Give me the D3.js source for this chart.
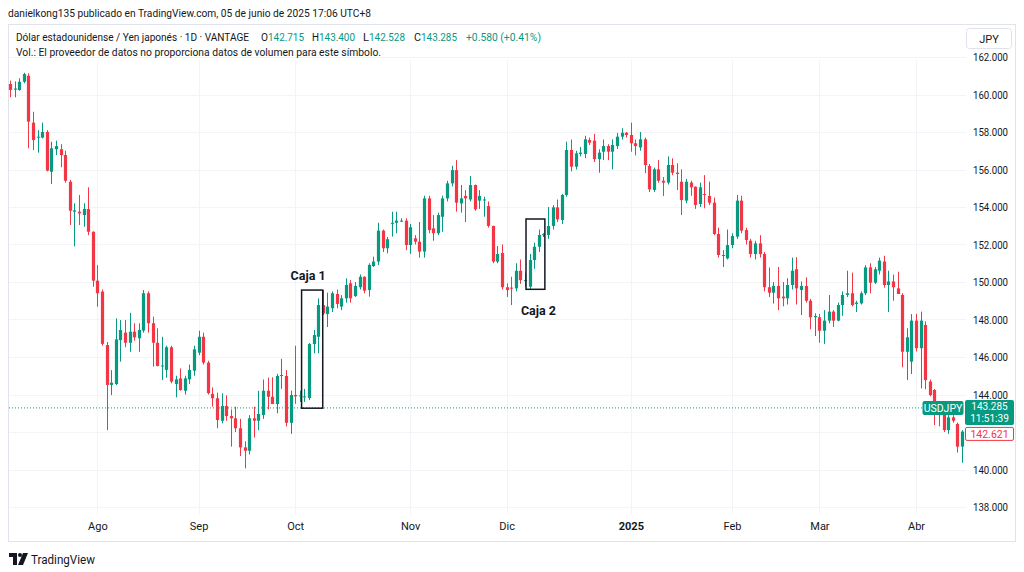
<!DOCTYPE html>
<html><head><meta charset="utf-8">
<script src="https://cdn.jsdelivr.net/npm/d3@7"></script>
<style>
body{margin:0;background:#fff;}
svg{display:block;font-family:Roboto,"Liberation Sans",sans-serif;}
</style>
</head><body>
<svg id="chart" width="1024" height="572"></svg>
<script>
// ---- data ----
const openP = [160.56,160.26,160.24,160.68,161.00,158.50,157.70,157.70,158.00,155.88,157.08,157.08,156.77,155.35,153.75,153.75,153.57,153.89,152.68,150.07,149.49,146.64,144.51,144.56,146.90,147.30,146.76,147.35,147.00,147.41,149.40,147.80,146.76,145.50,145.31,146.52,144.56,144.86,144.20,144.81,145.27,146.23,147.08,145.70,144.03,143.80,142.60,143.39,142.85,142.73,142.20,141.18,141.00,142.73,142.60,142.91,144.20,143.88,143.49,144.99,144.99,142.49,143.97,143.90,143.85,143.81,146.69,147.08,148.77,148.29,148.60,149.36,148.69,149.13,149.93,149.25,149.72,150.28,149.57,150.85,151.09,152.74,151.80,153.10,153.16,153.25,153.27,151.97,152.33,152.15,151.62,154.46,152.86,152.60,153.48,154.46,155.26,155.97,154.19,154.59,154.40,155.17,154.34,154.35,154.05,152.99,151.09,151.55,149.72,149.70,149.66,150.60,150.05,149.75,151.17,151.88,152.50,152.51,152.99,153.98,153.31,154.64,157.04,156.15,156.83,156.83,157.57,157.54,156.55,156.95,157.25,156.95,157.25,157.75,157.96,157.84,157.40,157.18,157.61,156.19,154.91,156.01,155.40,155.30,156.24,155.83,155.35,154.34,155.30,155.08,154.16,154.69,154.59,154.23,152.56,151.39,151.26,151.97,152.42,154.34,152.77,152.20,151.49,152.06,151.49,149.72,149.43,149.79,149.22,149.13,149.84,150.68,149.57,149.79,149.00,148.12,148.12,147.40,147.94,148.42,147.94,148.77,149.31,149.40,148.83,148.86,149.40,150.78,149.96,150.60,151.09,149.84,150.03,149.66,149.31,146.28,145.75,147.94,146.47,147.71,144.69,144.24,143.17,143.00,142.10,142.78,142.43,141.22];
const highP = [160.74,160.70,160.86,161.16,161.13,159.08,158.10,158.50,158.10,157.48,157.54,157.35,157.00,155.45,154.20,154.64,154.20,155.05,152.70,150.90,149.60,146.80,145.30,148.06,147.97,147.97,148.36,147.80,147.80,149.57,149.50,148.15,147.53,147.08,146.60,146.60,145.00,145.39,145.00,145.60,146.60,147.40,147.30,145.80,144.38,144.10,144.06,143.95,143.20,143.35,142.70,141.50,142.90,143.35,144.20,144.80,144.90,144.92,145.10,145.90,145.30,144.20,146.60,144.20,144.30,146.75,147.44,149.13,149.57,149.43,149.50,149.60,149.30,150.20,150.10,150.00,150.40,150.30,151.00,151.35,153.16,152.80,152.40,153.75,153.75,153.40,153.40,153.10,152.50,153.20,154.60,154.60,153.57,153.70,154.60,155.40,156.20,156.50,155.17,154.90,155.65,155.20,154.90,154.55,154.30,153.00,151.92,152.00,149.93,150.28,151.00,151.20,150.50,151.50,152.10,152.80,152.60,154.00,154.10,154.40,154.70,157.48,157.60,157.00,157.20,157.80,157.70,157.90,157.08,157.60,157.35,157.61,157.95,158.20,158.00,158.50,157.60,158.00,157.70,156.30,156.10,156.50,155.60,156.70,156.60,156.33,156.01,155.50,155.40,155.10,155.30,155.70,155.35,154.50,152.90,151.70,152.80,152.60,154.64,154.60,152.90,152.30,152.20,152.50,151.60,150.78,150.00,150.80,150.00,150.20,151.30,151.32,150.03,150.25,149.10,148.33,148.30,148.50,149.31,148.50,148.90,149.50,150.60,150.50,149.00,149.50,150.90,151.00,150.80,151.30,151.40,150.60,150.40,150.55,149.40,147.53,148.29,148.30,148.42,147.90,144.80,144.30,143.50,143.17,142.90,142.90,142.50,142.10];
const lowP = [159.85,159.85,160.20,160.60,157.13,157.04,156.90,157.66,155.90,155.23,156.77,156.12,155.30,153.04,151.90,153.04,152.95,152.50,149.75,148.68,146.60,142.10,143.97,144.50,145.75,146.52,146.28,146.87,146.28,147.30,147.30,145.49,145.50,144.77,144.90,144.60,143.85,144.20,144.00,144.56,145.00,146.10,145.60,144.00,143.35,142.20,142.46,142.60,141.22,142.00,140.72,140.06,140.80,141.70,142.10,142.70,143.20,143.50,143.00,144.30,142.30,141.90,143.50,143.60,143.60,143.70,146.20,146.20,148.24,147.60,148.40,148.60,148.50,148.90,148.90,149.20,149.60,149.40,149.22,150.80,150.90,151.60,151.53,152.42,152.60,153.20,151.70,151.50,152.00,151.30,151.30,152.60,152.20,152.50,152.68,154.30,155.10,153.75,153.70,153.20,154.30,153.80,153.90,153.48,152.90,151.00,151.00,149.60,149.20,148.77,149.50,149.90,149.75,149.60,150.70,151.60,152.40,152.30,152.80,153.20,153.10,154.55,155.90,156.00,156.70,156.60,157.30,156.40,155.83,156.50,156.50,156.01,157.10,157.60,157.70,156.95,156.75,157.00,155.80,154.80,154.80,155.30,154.59,155.20,155.70,154.91,153.57,154.20,154.60,153.90,154.00,153.93,154.11,152.50,151.30,150.80,151.20,151.80,152.30,152.60,152.00,151.30,151.20,151.30,149.50,149.20,148.85,148.50,148.70,148.80,149.60,148.80,148.24,148.90,147.48,147.12,146.76,146.70,147.80,147.60,147.90,148.20,149.20,148.70,148.40,148.80,149.30,149.40,149.90,150.40,149.70,148.40,149.00,149.50,145.45,144.77,145.09,146.30,144.33,144.28,143.90,142.37,142.30,142.00,141.90,142.50,140.90,140.36];
const closeP = [160.24,160.32,160.68,161.09,158.55,157.57,157.75,158.00,155.94,157.13,157.25,156.77,155.40,153.80,153.82,153.66,153.90,152.68,150.07,149.40,146.70,144.51,144.63,146.94,147.44,146.76,147.35,147.05,147.44,149.40,147.80,146.76,145.52,145.55,146.52,144.69,144.81,144.24,144.86,145.31,146.41,147.08,145.70,144.07,143.80,142.64,143.39,142.85,142.73,142.20,141.18,141.00,142.73,142.60,142.96,144.20,143.88,143.49,144.99,145.04,142.49,143.97,143.90,143.95,143.90,146.69,147.17,148.77,148.33,148.69,149.40,148.83,149.13,149.84,149.13,149.79,150.28,149.54,150.91,151.09,152.74,151.80,152.28,153.16,153.27,153.27,151.97,152.92,152.15,151.62,154.46,152.77,152.60,153.57,154.46,155.26,155.97,154.23,154.46,154.46,155.17,153.88,154.59,154.40,152.99,151.09,151.49,149.72,149.57,149.66,150.60,150.10,150.10,151.17,151.88,152.51,152.55,152.99,153.98,153.34,154.64,157.04,156.15,156.86,156.90,157.61,157.43,156.55,156.90,157.25,156.95,157.31,157.75,157.96,157.84,157.40,157.25,157.61,156.24,154.94,156.01,155.40,155.30,156.24,155.83,155.76,154.37,155.35,155.05,154.11,155.05,154.64,154.23,152.56,151.44,151.44,151.97,152.45,154.34,152.74,152.24,151.49,152.06,151.49,149.72,149.43,149.79,149.13,149.13,149.84,150.60,149.66,149.79,149.00,148.12,148.19,147.40,147.94,148.42,147.94,148.77,149.31,149.40,148.77,148.90,149.40,150.78,149.96,150.68,151.14,149.84,150.03,149.72,149.36,146.28,147.05,147.94,146.47,147.94,144.77,143.97,143.17,143.00,142.10,142.78,142.60,141.22,142.02];

const monthLabels = ["Ago","Sep","Oct","Nov","Dic","2025","Feb","Mar","Abr"];
const monthIndex  = [19, 41, 62, 87, 108, 135, 157, 176, 197];
const priceTicks  = [138,140,142,144,146,148,150,152,154,156,158,160,162];

const lastPrice = 143.285;
const lastPriceText = "143.285";
const countdownText = "11:51:39";
const bidText = "142.621";

const boxLabels = ["Caja 1","Caja 2"];
const boxStartIdx = [63.4, 112.2];
const boxEndIdx   = [68.0, 116.3];
const boxTopP     = [149.57, 153.36];
const boxBotP     = [143.27, 149.61];

// ---- drawing ----
const UP = "#089981", DOWN = "#f23645", TXT = "#131722";
const svg = d3.select("#chart");
const n = openP.length;
const x = d3.scaleLinear().domain([0, n - 1]).range([10, 962]);
const y = d3.scaleLinear().domain([138, 162]).range([507, 57]);
const ly = y(lastPrice);

// frame
svg.append("rect").attr("x", 8.5).attr("y", 24.5).attr("width", 1007).attr("height", 517)
  .attr("fill", "none").attr("stroke", "#e0e3eb");

// grid
svg.append("g").selectAll("line").data(priceTicks).join("line")
  .attr("x1", 9).attr("x2", 966).attr("y1", d => Math.round(y(d)) + 0.5).attr("y2", d => Math.round(y(d)) + 0.5)
  .attr("stroke", "#f3f4f7");
svg.append("g").selectAll("line").data(monthIndex).join("line")
  .attr("x1", d => Math.round(x(d)) + 0.5).attr("x2", d => Math.round(x(d)) + 0.5)
  .attr("y1", 60).attr("y2", 515).attr("stroke", "#f3f4f7");

// header texts
function seg(parent, xx, yy, w, txt, fill, fs) {
  return parent.append("text").attr("x", xx).attr("y", yy).attr("font-size", fs || 11).attr("fill", fill)
    .attr("textLength", w).attr("lengthAdjust", "spacingAndGlyphs").text(txt);
}
seg(svg, 8, 17, 363, "danielkong135 publicado en TradingView.com, 05 de junio de 2025 17:06 UTC+8", TXT);
const legendParts = [
  ["Dólar estadounidense / Yen japonés · 1D · VANTAGE", TXT, 16, 233],
  ["O", TXT, 261, 7], ["142.715", UP, 268, 36],
  ["H", TXT, 312, 7], ["143.400", UP, 319, 36],
  ["L", TXT, 363, 6], ["142.528", UP, 369, 36],
  ["C", TXT, 414, 7], ["143.285", UP, 421, 36],
  ["+0.580 (+0.41%)", UP, 466, 75]
];
legendParts.forEach(p => seg(svg, p[2], 41, p[3], p[0], p[1], 10));
seg(svg, 16, 56, 365, "Vol.: El proveedor de datos no proporciona datos de volumen para este símbolo.", TXT);

// JPY box
svg.append("rect").attr("x", 966.5).attr("y", 28.5).attr("width", 45).attr("height", 20).attr("rx", 3)
  .attr("fill", "#fff").attr("stroke", "#e0e3eb");
svg.append("text").attr("x", 989).attr("y", 42.5).attr("text-anchor", "middle").attr("font-size", 11)
  .attr("fill", TXT).text("JPY");

// price axis (labels hidden under the price labels, as in the reference)
const visibleTicks = priceTicks.filter(v => y(v) < ly - 12 || y(v) > ly + 38);
const yAxis = d3.axisRight(y).tickValues(visibleTicks).tickSize(0).tickPadding(0).tickFormat(d3.format(".3f"));
const ya = svg.append("g").attr("transform", "translate(973,0)").call(yAxis);
ya.select(".domain").remove();
ya.selectAll("text").attr("font-size", 11).attr("fill", TXT).attr("font-family", "Roboto, sans-serif")
  .attr("textLength", 35).attr("lengthAdjust", "spacingAndGlyphs");

// time axis
const xAxis = d3.axisBottom(x).tickValues(monthIndex).tickSize(0).tickPadding(0)
  .tickFormat((d, i) => monthLabels[i]);
const xa = svg.append("g").attr("transform", "translate(0,522)").call(xAxis);
xa.select(".domain").remove();
xa.selectAll("text").attr("font-size", 11).attr("fill", TXT).attr("font-family", "Roboto, sans-serif")
  .attr("font-weight", (d, i) => monthLabels[i] === "2025" ? "bold" : "normal");

// candles
const idx = d3.range(n);
const bw = 3.2;
const g = svg.append("g");
g.selectAll("line.wick").data(idx).join("line").attr("class", "wick")
  .attr("x1", i => Math.round(x(i)) + 0.5).attr("x2", i => Math.round(x(i)) + 0.5)
  .attr("y1", i => y(highP[i])).attr("y2", i => y(lowP[i]))
  .attr("stroke", i => closeP[i] >= openP[i] ? UP : DOWN).attr("stroke-width", 1);
g.selectAll("rect.body").data(idx).join("rect").attr("class", "body")
  .attr("x", i => Math.round(x(i)) + 0.5 - bw / 2).attr("width", bw)
  .attr("y", i => y(Math.max(openP[i], closeP[i])))
  .attr("height", i => Math.max(1, Math.abs(y(openP[i]) - y(closeP[i]))))
  .attr("fill", i => closeP[i] >= openP[i] ? UP : DOWN);

// last price dotted line
svg.append("line").attr("x1", 9).attr("x2", 922).attr("y1", ly).attr("y2", ly)
  .attr("stroke", UP).attr("stroke-width", 1).attr("stroke-dasharray", "1,2");

// boxes
boxLabels.forEach((lab, k) => {
  const x0 = x(boxStartIdx[k]), x1 = x(boxEndIdx[k]);
  const y0 = y(boxTopP[k]), y1 = y(boxBotP[k]);
  svg.append("rect").attr("x", x0).attr("y", y0).attr("width", x1 - x0).attr("height", y1 - y0)
    .attr("fill", "none").attr("stroke", TXT).attr("stroke-width", 1.5);
  const above = k === 0;
  svg.append("text").attr("x", (x0 + x1) / 2 - (above ? 4 : -3)).attr("y", above ? y0 - 10 : y1 + 26)
    .attr("text-anchor", "middle").attr("font-size", 12.5).attr("font-weight", "bold")
    .attr("fill", TXT).text(lab);
});

// price labels
svg.append("rect").attr("x", 922.5).attr("y", ly - 7).attr("width", 41).attr("height", 14).attr("rx", 2).attr("fill", UP);
svg.append("text").attr("x", 943).attr("y", ly + 4).attr("text-anchor", "middle").attr("font-size", 10.5)
  .attr("fill", "#fff").text("USDJPY");
svg.append("rect").attr("x", 965).attr("y", ly - 8).attr("width", 49).attr("height", 25).attr("rx", 2).attr("fill", UP);
svg.append("rect").attr("x", 965.5).attr("y", ly + 19.5).attr("width", 48).attr("height", 13).attr("rx", 1.5)
  .attr("fill", "#fff").attr("stroke", DOWN);
svg.append("text").attr("x", 989.5).attr("y", ly + 2).attr("text-anchor", "middle").attr("font-size", 10)
  .attr("fill", "#fff").text(lastPriceText);
svg.append("text").attr("x", 989.5).attr("y", ly + 14.3).attr("text-anchor", "middle").attr("font-size", 10)
  .attr("fill", "#fff").text(countdownText);
svg.append("text").attr("x", 989.5).attr("y", ly + 30).attr("text-anchor", "middle").attr("font-size", 10.5)
  .attr("fill", DOWN).text(bidText);

// TradingView logo
const lg = svg.append("g").attr("fill", TXT);
lg.append("path").attr("d", "M9,553 H17 V565 H13 V557 H9 Z");
lg.append("circle").attr("cx", 20).attr("cy", 555).attr("r", 2);
lg.append("path").attr("d", "M23,553 H28 L23,565 H18 Z");
svg.append("text").attr("x", 31).attr("y", 564).attr("font-size", 12.5).attr("fill", TXT)
  .attr("textLength", 64).attr("lengthAdjust", "spacingAndGlyphs").text("TradingView");
</script>
</body></html>
